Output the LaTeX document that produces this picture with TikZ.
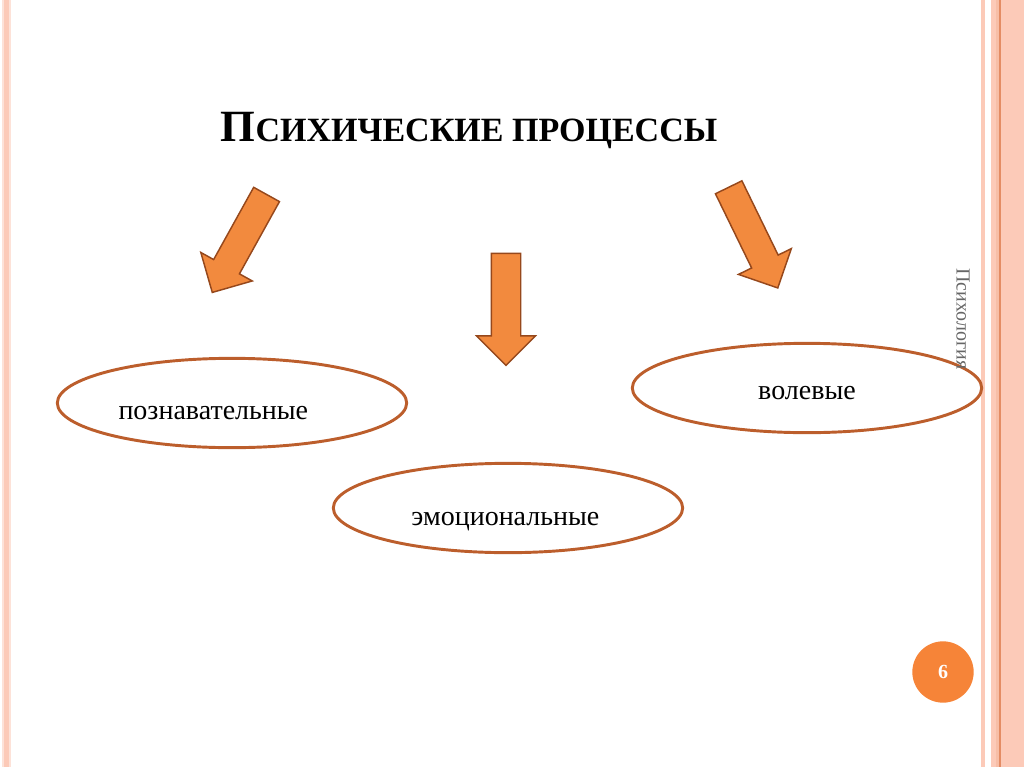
\documentclass[tikz,border=0pt]{standalone}
\usepackage{fontspec}
\setmainfont{Liberation Serif}
\usepackage{xcolor}
\usetikzlibrary{shapes.geometric, shapes.arrows, positioning}

\definecolor{bandpink}{RGB}{252,202,184}
\definecolor{banddark}{RGB}{228,140,100}
\definecolor{ovalline}{RGB}{188,94,44}
\definecolor{arrowfill}{RGB}{242,138,62}
\definecolor{arrowedge}{RGB}{150,72,28}
\definecolor{pagecircle}{RGB}{246,132,56}

\begin{document}
\begin{tikzpicture}[x=0.75pt, y=-0.75pt]
    \tikzstyle{oval} = [ellipse, draw=ovalline, line width=2.2pt, minimum width=262pt, minimum height=67pt, inner sep=0pt]
    \tikzstyle{ovaltext} = [font=\fontsize{21}{24}\selectfont]
    \tikzstyle{bigarrow} = [single arrow, draw=arrowedge, fill=arrowfill, line width=1.1pt, minimum height=84pt, minimum width=43pt, single arrow head extend=11pt, inner xsep=0pt, inner ysep=10.5pt]

    \useasboundingbox (0,0) rectangle (1024,767);

    % left band
    \fill[bandpink!55] (2,0) rectangle (11,767);
    \fill[bandpink] (4,0) rectangle (9,767);

    % right bands
    \fill[bandpink] (981,0) rectangle (985,767);
    \fill[bandpink] (991,0) rectangle (1024,767);
    \fill[bandpink!80!banddark] (996,0) rectangle (1001,767);
    \draw[banddark, line width=0.8pt] (1000,0) -- (1000,767);

    % Title
    \node (title) at (469,131) {\bfseries\fontsize{33.5}{36}\selectfont П\fontsize{25.5}{28}\selectfont СИХИЧЕСКИЕ ПРОЦЕССЫ};

    % Arrows
    \node[bigarrow, rotate=241] (arrleft) at (243,237) {};
    \node[bigarrow, rotate=270] (arrmid) at (506,302) {};
    \node[bigarrow, rotate=296] (arrright) at (750,231) {};

    % Ovals
    \node[oval, label={[ovaltext, xshift=-14pt, yshift=-7.5pt]center:познавательные}] (cognitive) at (232,403) {};
    \node[oval, label={[ovaltext, xshift=-2pt, yshift=-10pt]center:эмоциональные}] (emotional) at (508,508) {};
    \node[oval, label={[ovaltext, yshift=-4pt]center:волевые}] (volitional) at (807,388) {};

    % Side caption
    \node[rotate=-90, text=black!60, font=\fontsize{15}{17}\selectfont] (subject) at (963,319) {Психология};

    % Page number
    \node[circle, fill=pagecircle, minimum size=46pt, inner sep=0pt, text=white, font=\bfseries\fontsize{15}{17}\selectfont] (pagenum) at (943,672) {6};
\end{tikzpicture}
\end{document}
